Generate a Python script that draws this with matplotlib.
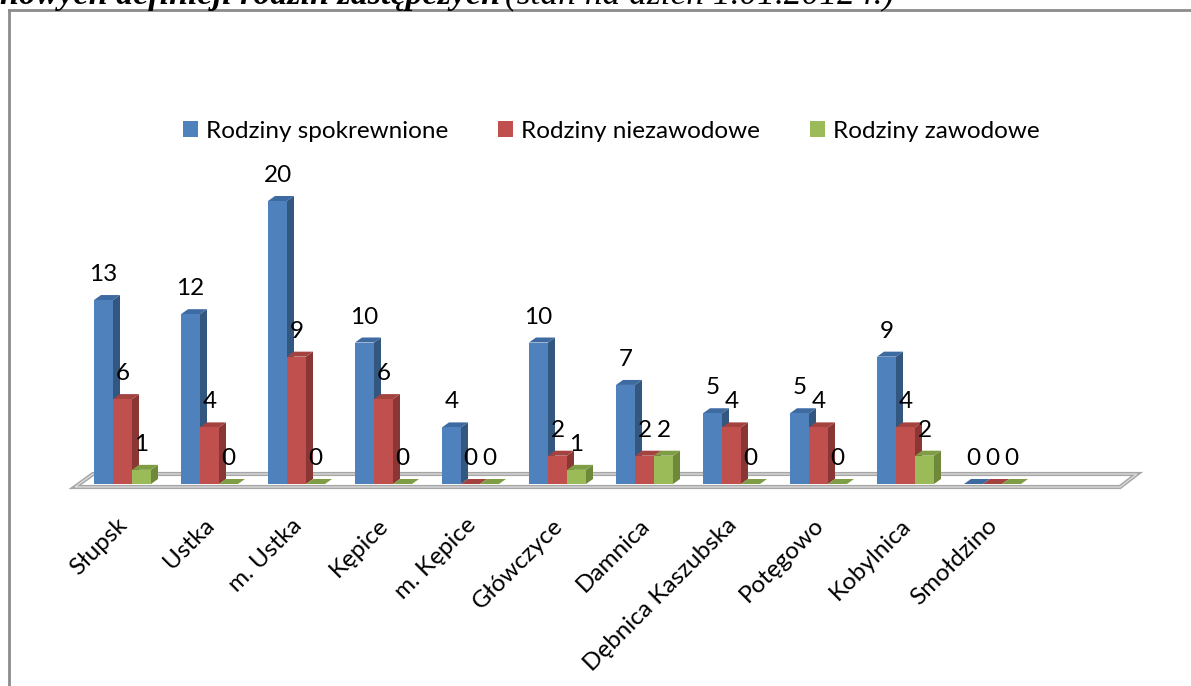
import matplotlib
matplotlib.use("Agg")
import matplotlib.pyplot as plt
from matplotlib.patches import Polygon, Patch
from matplotlib.lines import Line2D

plt.rcParams['font.family'] = ['Lato', 'DejaVu Sans']

# --- data ---
gminy = ["Słupsk", "Ustka", "m. Ustka", "Kępice", "m. Kępice", "Główczyce",
         "Damnica", "Dębnica Kaszubska", "Potęgowo", "Kobylnica", "Smołdzino"]
spokrewnione = [13, 12, 20, 10, 4, 10, 7, 5, 5, 9, 0]
niezawodowe = [6, 4, 9, 6, 0, 2, 2, 4, 4, 4, 0]
zawodowe = [1, 0, 0, 0, 0, 1, 2, 0, 0, 2, 0]
serie = ["Rodziny spokrewnione", "Rodziny niezawodowe", "Rodziny zawodowe"]

# front, side, top colours per series
kolory = [("#4F81BD", "#34577F", "#3E6AA2"),
          ("#C0504D", "#8A3634", "#A4423F"),
          ("#9BBB59", "#6E893A", "#7F9D44")]

W, H = 1191, 686
fig = plt.figure(figsize=(W / 100, H / 100), dpi=100)
ax = fig.add_axes([0, 0, 1, 1])

# pixel scale of the 3d-looking chart
px_x, px_y = 87.0, 14.15
x0_px, y0_px = 122.5, 484.0
ax.set_xlim(-x0_px / px_x, (W - x0_px) / px_x)
ax.set_ylim((y0_px - H) / px_y, y0_px / px_y)
ax.axis("off")

w = 19 / px_x
dx, dy = 7 / px_x, 5 / px_y

# floor (double grey edge)
fx = [(75 - x0_px) / px_x, (93 - x0_px) / px_x, (1137 - x0_px) / px_x, (1120 - x0_px) / px_x]
fy = [(y0_px - 487) / px_y, (y0_px - 474) / px_y, (y0_px - 474) / px_y, (y0_px - 487) / px_y]
ax.add_patch(Polygon(list(zip(fx, fy)), closed=True, facecolor="white",
                     edgecolor="#a6a6a6", lw=3, zorder=1))
ax.add_patch(Polygon(list(zip(fx, fy)), closed=True, facecolor="none",
                     edgecolor="#d9d9d9", lw=1, zorder=1))

dane = [spokrewnione, niezawodowe, zawodowe]
for s, vals in enumerate(dane):
    front, side, top = kolory[s]
    lefts = [i - 1.5 * w + s * w for i in range(len(gminy))]
    for i, (L, h) in enumerate(zip(lefts, vals)):
        z = 2 + s
        ax.add_patch(Polygon([(L + w, 0), (L + w + dx, dy), (L + w + dx, h + dy), (L + w, h)],
                             closed=True, facecolor=side, edgecolor="none", zorder=z))
        ax.add_patch(Polygon([(L, h), (L + dx, h + dy), (L + w + dx, h + dy), (L + w, h)],
                             closed=True, facecolor=top, edgecolor="none", zorder=z))
        ax.text(L + w / 2, h + 19 / px_y, str(h), ha="center", va="baseline",
                fontsize=17.5, color="black", zorder=10)
    ax.bar(lefts, vals, width=w, align="edge", color=front, zorder=2 + s, linewidth=0)

# category labels
for i, g in enumerate(gminy):
    ax.text(i + 0.02, (y0_px - 522) / px_y, g, rotation=45, rotation_mode="anchor",
            ha="right", va="center", fontsize=17.5)

# legend
uchwyty = [Patch(facecolor=k[0], edgecolor="none") for k in kolory]
fig.legend(uchwyty, serie, loc="center", bbox_to_anchor=(611 / W, 1 - 131 / H),
           ncol=3, frameon=False, fontsize=17.5, handlelength=0.62, handleheight=0.62,
           handletextpad=0.33, columnspacing=2.05, borderpad=0)

# frame of the chart box
fig.add_artist(Line2D([9 / W, 9 / W], [0, 1 - 10 / H], color="#8c8c8c", lw=2))
fig.add_artist(Line2D([9 / W, 1], [1 - 10 / H, 1 - 10 / H], color="#8c8c8c", lw=2))

# cut-off caption above the chart
fig.text(0, 1 - 4 / H, "nowych definicji rodzin zastępczych", fontfamily="Liberation Serif",
         fontweight="bold", fontstyle="italic", fontsize=24.5, va="baseline")
fig.text(505 / W, 1 - 4 / H, "(stan na dzień 1.01.2012 r.)", fontfamily="Liberation Serif",
         fontstyle="italic", fontsize=25.5, va="baseline")

fig.savefig("out.png", dpi=100)
plt.close(fig)
